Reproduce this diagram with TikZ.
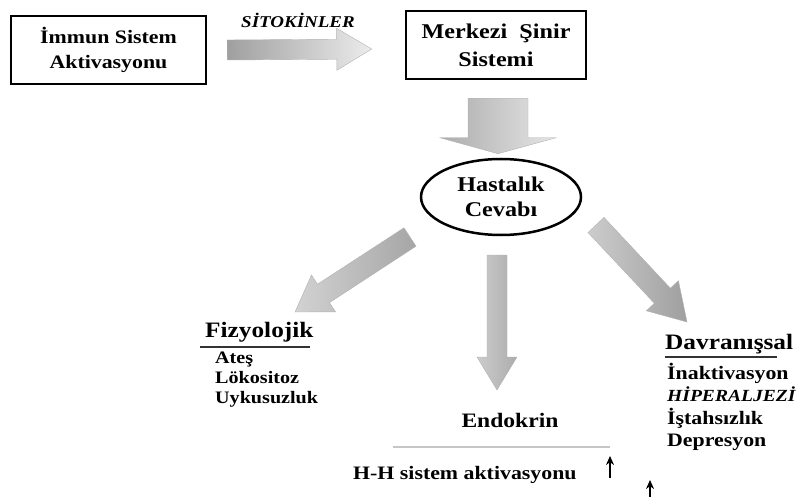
\documentclass[tikz,border=0pt]{standalone}
\usepackage{fontspec}
\setmainfont[FakeStretch=1.15]{Liberation Serif}
\usetikzlibrary{positioning,calc,shapes.geometric,arrows.meta}
\tikzstyle{kutu} = [draw=black, line width=2.5pt, align=center, inner sep=0pt]
\tikzstyle{okgolge} = [draw=gray!60, line width=0.4pt]
\tikzstyle{ince} = [line width=1.6pt, -{Stealth[length=9pt,width=8pt]}]

% kalin golgeli ok: [renk]{kuyruk}{uc}{yari govde}{yari bas}{bas boyu}
\newcommand{\kalinok}[6][]{%
  \coordinate (kb) at ($(#3)!#6!(#2)$);
  \path[okgolge,#1] ($(#2)!#4!90:(#3)$) -- ($(kb)!#4!-90:(#2)$) -- ($(kb)!#5!-90:(#2)$) -- (#3)
    -- ($(kb)!#5!90:(#2)$) -- ($(kb)!#4!90:(#2)$) -- ($(#2)!#4!-90:(#3)$) -- cycle;
}

\begin{document}
\begin{tikzpicture}[x=1pt, y=-1pt,
    baslik/.style = {anchor=base west, inner sep=0pt, font=\fontsize{22}{26}\selectfont\bfseries},
    madde/.style = {anchor=base west, inner sep=0pt, font=\fontsize{#1}{22}\selectfont\bfseries},
    madde/.default=17.5]
    \useasboundingbox (0,0) rectangle (802,497);

    \node (imm) [kutu, minimum width=195, minimum height=68,
                 font=\fontsize{19}{25}\selectfont\bfseries] at (108.5,50) {İmmun Sistem\\Aktivasyonu};
    \node (mss) [kutu, minimum width=180, minimum height=68,
                 font=\fontsize{21}{28}\selectfont\bfseries] at (496,45) {Merkezi\ \ Şinir\\Sistemi};
    \node (hc) [kutu, ellipse, minimum width=160, minimum height=76,
                font=\fontsize{21}{25}\selectfont\bfseries] at (501,197) {Hastalık\\Cevabı};
    \node (sit) [anchor=base, inner sep=0pt, font=\fontsize{16.5}{20}\selectfont\bfseries\itshape] at (298,27.5) {SİTOKİNLER};

    % buyuk oklar
    \coordinate (h1) at ($(imm.east)+(20,0)$);
    \coordinate (h2) at ($(mss.west)+(-33,4)$);
    \kalinok[left color=gray!75, right color=gray!15]{h1}{h2}{10pt}{21pt}{35pt}
    \coordinate (d1) at ($(mss.south)+(2,18)$);
    \coordinate (d2) at ($(hc.north)+(-3,-4)$);
    \kalinok[left color=gray!65, right color=gray!20]{d1}{d2}{30pt}{58pt}{16pt}
    \coordinate (l1) at (410,237);
    \coordinate (l2) at (295,312);
    \kalinok[left color=gray!35, right color=gray!70]{l1}{l2}{11pt}{22pt}{34pt}
    \coordinate (m1) at (497,255);
    \coordinate (m2) at (497,390);
    \kalinok[left color=gray!40, right color=gray!65]{m1}{m2}{10pt}{20pt}{33pt}
    \coordinate (r1) at (596,225);
    \coordinate (r2) at (687,322);
    \kalinok[left color=gray!40, right color=gray!75]{r1}{r2}{11pt}{22pt}{36pt}

    % fizyolojik
    \node (fiz) [baslik] at (205,337) {Fizyolojik};
    \draw[gray!40!black, line width=1.2pt] (200,347) -- (310,347);
    \foreach \t [count=\i] in {Ateş, Lökositoz, Uykusuzluk}
        \node (fiz\i) [madde] at (215,343+20*\i) {\t};

    % davranissal
    \node (dav) [baslik] at (665,349) {Davranışsal};
    \draw[gray!40!black, line width=1.2pt] (665,357) -- (777,357);
    \foreach \t [count=\i] in {İnaktivasyon, {\fontsize{17}{22}\selectfont\itshape HİPERALJEZİ}, İştahsızlık, Depresyon}
        \node (dav\i) [madde=19] at (667,357.3+22.3*\i) {\t};

    % endokrin
    \node (end) [anchor=base, inner sep=0pt, font=\fontsize{20.5}{24}\selectfont\bfseries] at (510,427) {Endokrin};
    \draw[gray!45, line width=2.5pt] (393,447) -- (610,447);
    \node (hh) [madde=19] at (353,479) {H-H sistem aktivasyonu};
    \coordinate (a1) at (610,478);
    \coordinate (a2) at (610,456);
    \coordinate (b1) at (650,498);
    \coordinate (b2) at (650,480);
    \draw[ince] (a1) -- (a2);
    \draw[ince] (b1) -- (b2);
\end{tikzpicture}
\end{document}
